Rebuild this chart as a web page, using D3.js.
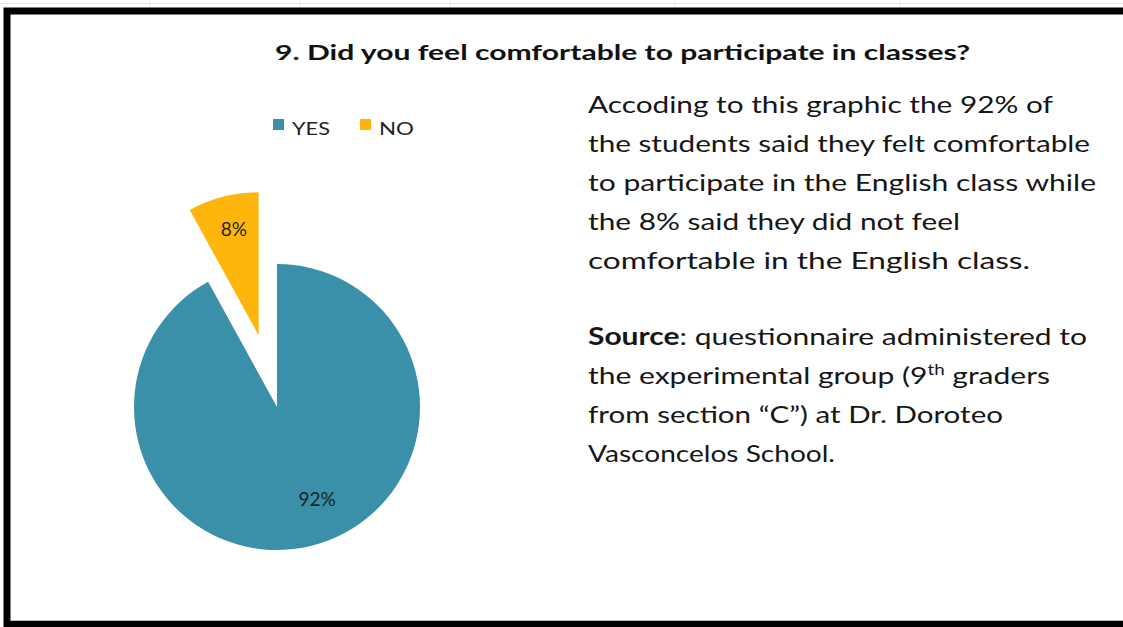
<!DOCTYPE html>
<html>
<head>
<meta charset="utf-8">
<script src="https://cdn.jsdelivr.net/npm/d3@7"></script>
<style>
  html, body { margin: 0; padding: 0; background: #fff; }
  svg { display: block; }
  text { font-family: Lato, "Open Sans", sans-serif; }
</style>
</head>
<body>
<svg id="chart" width="1123" height="627"></svg>
<script>
// Survey answers for question 9
const categories = ["YES", "NO"];
const values = [92, 8];
const valueLabels = ["92%", "8%"];
const colors = ["#3A90A8", "#FFB60C"];

const title = "9. Did you feel comfortable to participate in classes?";
const commentLines = [
  "Accoding to this graphic  the 92% of",
  "the students said they felt comfortable",
  "to participate  in the  English class while",
  "the 8% said they did not feel",
  "comfortable  in the  English class."
];
const commentWidths = [465, 502, 508, 372, 442];

const svg = d3.select("#chart");
const W = 1123, H = 627;

// frame
svg.append("rect").attr("x", 0).attr("y", 0).attr("width", W).attr("height", H).attr("fill", "#fff");
svg.append("line").attr("x1", 0).attr("x2", W).attr("y1", 3.5).attr("y2", 3.5)
  .attr("stroke", "#e4e4e4").attr("stroke-width", 1);
[150, 300, 450, 675, 900].forEach(x => {
  svg.append("line").attr("x1", x).attr("x2", x).attr("y1", 0).attr("y2", 7)
    .attr("stroke", "#ececec").attr("stroke-width", 1);
});
svg.append("path")
  .attr("d", `M ${W + 5} 11 L 7 11 L 7 624.5 L ${W + 5} 624.5`)
  .attr("fill", "none").attr("stroke", "#000").attr("stroke-width", 7);
svg.append("line").attr("x1", 11).attr("x2", W).attr("y1", 620.5).attr("y2", 620.5)
  .attr("stroke", "#bbb").attr("stroke-width", 1);

// title
svg.append("text")
  .attr("x", 275).attr("y", 60)
  .attr("textLength", 695).attr("lengthAdjust", "spacingAndGlyphs")
  .attr("font-size", 21).attr("font-weight", "bold").attr("fill", "#111")
  .text(title);

// legend
const legend = svg.append("g");
const legendX = [273, 360];
categories.forEach((c, i) => {
  legend.append("rect").attr("x", legendX[i]).attr("y", 119).attr("width", 11).attr("height", 11)
    .attr("fill", colors[i]);
  legend.append("text").attr("x", legendX[i] + 19).attr("y", 135)
    .attr("font-size", 17).attr("fill", "#222")
    .attr("textLength", c === "YES" ? 38 : 35).attr("lengthAdjust", "spacingAndGlyphs")
    .text(c);
});

// pie
const cx = 277, cy = 407, r = 143, explode = 74;
const pie = d3.pie().sort(null).value(d => d)(values);
const arc = d3.arc().innerRadius(0).outerRadius(r);
const labelArc = [d3.arc().innerRadius(101).outerRadius(101), d3.arc().innerRadius(108).outerRadius(108)];
const labelShift = [[15, -6], [2, -2]];

const g = svg.append("g").attr("transform", `translate(${cx},${cy})`);
pie.forEach((p, i) => {
  const mid = (p.startAngle + p.endAngle) / 2;
  const off = i === 1 ? explode : 0;
  const dx = Math.sin(mid) * off, dy = -Math.cos(mid) * off;
  const sg = g.append("g").attr("transform", `translate(${dx},${dy})`);
  sg.append("path").attr("d", arc(p)).attr("fill", colors[i]);
  const [lx, ly] = labelArc[i].centroid(p);
  sg.append("text")
    .attr("x", lx + labelShift[i][0]).attr("y", ly + labelShift[i][1])
    .attr("text-anchor", "middle").attr("dominant-baseline", "central")
    .attr("font-size", 19).attr("fill", "#1e1e1e")
    .text(valueLabels[i]);
});

// commentary
const body = svg.append("g").attr("fill", "#161616").attr("font-size", 24);
commentLines.forEach((line, i) => {
  body.append("text").attr("x", 588).attr("y", 113 + i * 39)
    .attr("textLength", commentWidths[i]).attr("lengthAdjust", "spacingAndGlyphs")
    .text(line);
});

// source note
const s1 = body.append("text").attr("x", 588).attr("y", 345)
  .attr("textLength", 499).attr("lengthAdjust", "spacingAndGlyphs");
s1.append("tspan").attr("font-weight", "bold").text("Source");
s1.append("tspan").text(": questionnaire administered to");

const s2 = body.append("text").attr("x", 588).attr("y", 384)
  .attr("textLength", 462).attr("lengthAdjust", "spacingAndGlyphs");
s2.append("tspan").text("the experimental  group (9");
s2.append("tspan").attr("font-size", 15).attr("dy", -9).text("th");
s2.append("tspan").attr("dy", 9).text(" graders");

body.append("text").attr("x", 588).attr("y", 423)
  .attr("textLength", 415).attr("lengthAdjust", "spacingAndGlyphs")
  .text("from  section “C”) at Dr. Doroteo");
body.append("text").attr("x", 588).attr("y", 462)
  .attr("textLength", 247).attr("lengthAdjust", "spacingAndGlyphs")
  .text("Vasconcelos School.");
</script>
</body>
</html>
